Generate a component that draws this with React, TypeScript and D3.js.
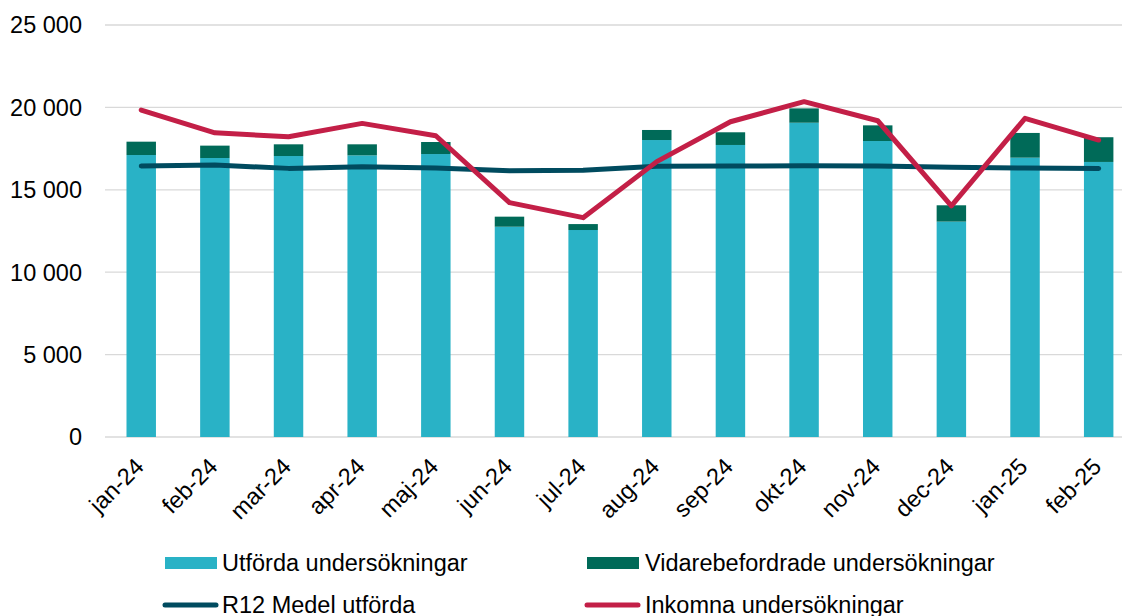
import React from "react";
import * as d3 from "d3";

const months = ["jan-24", "feb-24", "mar-24", "apr-24", "maj-24", "jun-24", "jul-24", "aug-24", "sep-24", "okt-24", "nov-24", "dec-24", "jan-25", "feb-25"];
const utforda = [17110, 16930, 17050, 17090, 17170, 12760, 12560, 18020, 17720, 19070, 17960, 13070, 16950, 16690];
const vidare = [810, 750, 710, 670, 730, 610, 360, 610, 770, 870, 950, 990, 1500, 1500];
const inkomna = [19840, 18460, 18220, 19030, 18280, 14220, 13310, 16710, 19130, 20350, 19190, 14020, 19340, 18020];
const r12 = [16440, 16500, 16300, 16400, 16320, 16160, 16180, 16430, 16440, 16460, 16440, 16370, 16320, 16300];
const yTicks = [0, 5000, 10000, 15000, 20000, 25000];

const C_UTF = "#29B2C6";
const C_VID = "#006A58";
const C_R12 = "#004B5F";
const C_INK = "#C31F47";
const FONT = "'Liberation Sans', Arial, sans-serif";

export default function App() {
  const W = 1122, H = 616;
  const x = d3.scaleBand<string>().domain(months).range([104.4, 1135.5]).paddingInner(0.6).paddingOuter(0.3);
  const y = d3.scaleLinear().domain([0, 25000]).range([437, 25]);
  const loc = d3.formatLocale({ decimal: ",", thousands: " ", grouping: [3], currency: ["", ""] });
  const fmt = loc.format(",d");
  const cx = (m: string) => (x(m) as number) + x.bandwidth() / 2;
  const line = d3.line<number>().x((_, i) => cx(months[i])).y((v) => y(v));

  return (
    <svg width={W} height={H} style={{ position: "absolute", left: 0, top: 0, background: "#fff" }} fontFamily={FONT}>
      {yTicks.map((t) => (
        <g key={t}>
          <line x1={105} x2={1122} y1={y(t)} y2={y(t)} stroke="#D9D9D9" strokeWidth={1.3} />
          <text x={82} y={y(t)} dy="0.36em" textAnchor="end" fontSize={23.5} fill="#000">{fmt(t)}</text>
        </g>
      ))}
      {months.map((m, i) => (
        <g key={m}>
          <rect x={x(m)} width={x.bandwidth()} y={y(utforda[i])} height={y(0) - y(utforda[i])} fill={C_UTF} />
          <rect x={x(m)} width={x.bandwidth()} y={y(utforda[i] + vidare[i])} height={y(utforda[i]) - y(utforda[i] + vidare[i])} fill={C_VID} />
        </g>
      ))}
      <path d={line(r12) || ""} fill="none" stroke={C_R12} strokeWidth={5} strokeLinecap="round" strokeLinejoin="round" />
      <path d={line(inkomna) || ""} fill="none" stroke={C_INK} strokeWidth={5} strokeLinecap="round" strokeLinejoin="round" />
      {months.map((m) => (
        <text key={m} transform={`translate(${cx(m) + 4},${468}) rotate(-45)`} textAnchor="end" fontSize={23.5} fill="#000">{m}</text>
      ))}
      <g fontSize={23.5} fill="#000">
        <rect x={165} y={557} width={52} height={12} fill={C_UTF} />
        <text x={222} y={571}>Utförda undersökningar</text>
        <rect x={587} y={557} width={52} height={12} fill={C_VID} />
        <text x={645} y={571}>Vidarebefordrade undersökningar</text>
        <line x1={165} x2={216} y1={605} y2={605} stroke={C_R12} strokeWidth={5} strokeLinecap="round" />
        <text x={222} y={613}>R12 Medel utförda</text>
        <line x1={587} x2={638} y1={605} y2={605} stroke={C_INK} strokeWidth={5} strokeLinecap="round" />
        <text x={645} y={613}>Inkomna undersökningar</text>
      </g>
    </svg>
  );
}
